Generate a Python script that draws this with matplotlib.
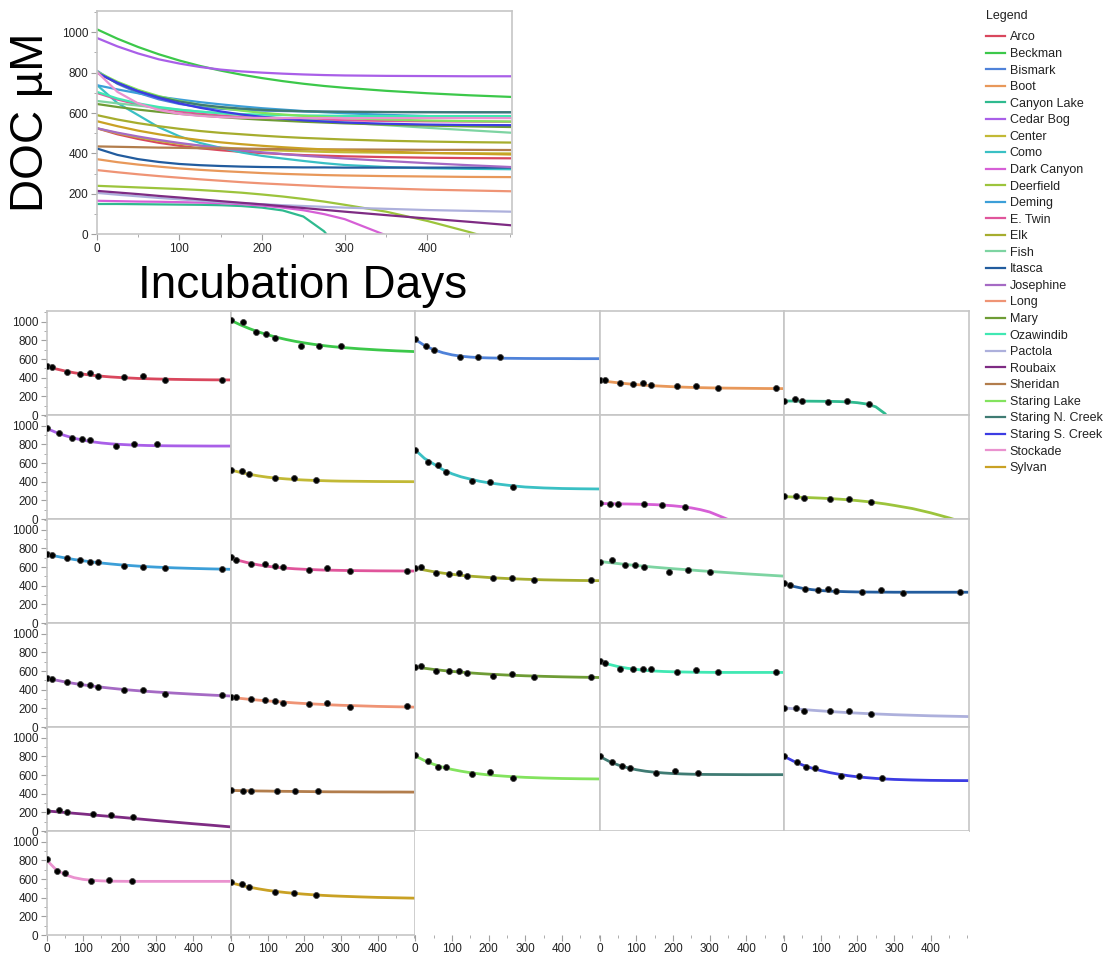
import numpy as np
import matplotlib
matplotlib.use('Agg')
import matplotlib.pyplot as plt
from matplotlib.lines import Line2D
from matplotlib.ticker import MultipleLocator

plt.rcParams['font.family'] = ['Liberation Sans', 'DejaVu Sans']

nan = np.nan

LAKES = ['Arco', 'Beckman', 'Bismark', 'Boot', 'Canyon Lake', 'Cedar Bog', 'Center', 'Como',
         'Dark Canyon', 'Deerfield', 'Deming', 'E. Twin', 'Elk', 'Fish', 'Itasca', 'Josephine',
         'Long', 'Mary', 'Ozawindib', 'Pactola', 'Roubaix', 'Sheridan', 'Staring Lake',
         'Staring N. Creek', 'Staring S. Creek', 'Stockade', 'Sylvan']

COLORS = ['#d9475d', '#3cc84a', '#4f82d9', '#e8985a', '#2fba8f', '#a95fe8', '#c2b935', '#3ac0c4',
          '#d65fd6', '#9cc43c', '#3c9fd8', '#e0559b', '#a6ad2e', '#7dd4a2', '#225c9e', '#a56ac4',
          '#ef9475', '#6e9c35', '#40e8b3', '#adb0dc', '#7e2b83', '#b27d4c', '#83e35e',
          '#3f7b73', '#3c3ce3', '#ea92cf', '#c9a124']

# sampling schedules (incubation day of each DOC measurement)
DAYS_A = [0, 15, 56, 92, 119, 141, 212, 263, 324, 480]
DAYS_B1 = [0, 29, 50, 121, 171, 232]
DAYS_B2 = [0, 33, 55, 126, 176, 237]
DAYS_C = [0, 34, 69, 97, 120, 190, 240, 301]
DAYS_D = [0, 34, 61, 83, 154, 205, 267]

OBS_DAYS = [DAYS_A, DAYS_C, DAYS_B1, DAYS_A, DAYS_B1, DAYS_C, DAYS_B1, DAYS_D,
            DAYS_B1, DAYS_B2, DAYS_A, DAYS_A, DAYS_A, DAYS_C, DAYS_A, DAYS_A,
            DAYS_A, DAYS_A, DAYS_A, DAYS_B2, DAYS_B2, DAYS_B2, DAYS_D,
            DAYS_D, DAYS_D, DAYS_B1, DAYS_B1]

OBS_DOC = [
    [525, 518, 464, 440, 447, 421, 411, 415, 379, 375],   # Arco
    [1015, 1000, 893, 865, 829, 743, 743, 743],           # Beckman
    [811, 743, 693, 622, 618, 618],                       # Bismark
    [372, 379, 346, 332, 340, 318, 311, 311, 286, 289],   # Boot
    [145, 172, 150, 143, 147, 114],                       # Canyon Lake
    [980, 918, 872, 858, 843, 786, 807, 807],             # Cedar Bog
    [525, 511, 479, 440, 436, 418],                       # Center
    [745, 614, 575, 500, 407, 397, 346],                  # Como
    [170, 164, 161, 161, 150, 125],                       # Dark Canyon
    [243, 250, 225, 218, 214, 179],                       # Deerfield
    [742, 726, 697, 675, 650, 650, 611, 604, 593, 579],   # Deming
    [705, 679, 632, 632, 615, 597, 568, 586, 561, 557],   # E. Twin
    [588, 597, 536, 522, 539, 500, 486, 482, 458, 461],   # Elk
    [657, 672, 625, 625, 604, 543, 565, 547],             # Fish
    [428, 407, 368, 357, 361, 343, 332, 354, 322, 332],   # Itasca
    [528, 515, 479, 458, 447, 429, 393, 400, 354, 340],   # Josephine
    [318, 325, 297, 286, 279, 261, 250, 254, 218, 225],   # Long
    [645, 657, 600, 597, 597, 579, 547, 565, 533, 539],   # Mary
    [708, 689, 625, 625, 625, 622, 586, 608, 593, 586],   # Ozawindib
    [207, 200, 175, 168, 168, 139],                       # Pactola
    [218, 222, 200, 186, 168, 150],                       # Roubaix
    [438, 432, 430, 430, 424, 424],                       # Sheridan
    [810, 750, 689, 686, 614, 629, 568],                  # Staring Lake
    [805, 740, 700, 675, 622, 643, 618],                  # Staring N. Creek
    [805, 740, 689, 672, 590, 593, 565],                  # Staring S. Creek
    [810, 689, 668, 582, 593, 582],                       # Stockade
    [565, 543, 518, 458, 450, 429],                       # Sylvan
]

# fitted decay curves at these days
FIT_DAYS = [0, 25, 50, 75, 100, 125, 150, 175, 200, 225, 250, 275, 300, 350, 400, 450, 500]
FIT_DOC = [
    [525, 495, 472, 453, 438, 426, 416, 408, 402, 397, 392, 389, 386, 382, 379, 377, 376],
    [1015, 968, 927, 891, 860, 833, 810, 790, 773, 758, 745, 734, 725, 710, 698, 688, 680],
    [810, 745, 700, 668, 645, 630, 621, 615, 612, 610, 608, 607, 606, 605, 605, 604, 604],
    [372, 357, 345, 335, 326, 319, 313, 308, 303, 299, 296, 293, 291, 288, 286, 284, 283],
    [150, 150, 149, 148, 147, 146, 144, 140, 132, 118, 88, 15, -110, nan, nan, nan, nan],
    [972, 930, 895, 866, 845, 828, 815, 806, 800, 795, 791, 788, 786, 784, 783, 782, 782],
    [525, 500, 480, 462, 448, 438, 430, 423, 418, 414, 411, 408, 406, 404, 402, 401, 400],
    [740, 650, 590, 530, 485, 452, 428, 405, 388, 375, 363, 352, 343, 333, 327, 324, 322],
    [166, 164, 162, 161, 159, 157, 154, 149, 142, 132, 119, 100, 75, -5, nan, nan, nan],
    [240, 236, 232, 228, 224, 219, 213, 206, 197, 187, 175, 162, 146, 112, 66, 12, -48],
    [738, 717, 698, 681, 667, 654, 643, 633, 624, 617, 610, 604, 599, 591, 585, 580, 576],
    [700, 667, 642, 623, 608, 597, 588, 581, 576, 572, 568, 566, 564, 561, 559, 558, 557],
    [590, 568, 550, 535, 522, 511, 502, 495, 488, 482, 477, 473, 469, 463, 459, 456, 454],
    [660, 648, 637, 626, 616, 607, 598, 590, 582, 575, 568, 560, 553, 540, 527, 515, 503],
    [425, 393, 372, 358, 348, 342, 338, 335, 333, 332, 331, 331, 330, 330, 330, 330, 330],
    [525, 503, 484, 467, 452, 439, 427, 416, 406, 397, 389, 382, 375, 363, 352, 342, 333],
    [318, 307, 297, 288, 280, 272, 265, 258, 252, 247, 242, 237, 233, 227, 221, 217, 213],
    [645, 630, 617, 606, 596, 588, 580, 573, 567, 562, 557, 553, 549, 543, 538, 534, 531],
    [705, 672, 648, 630, 617, 607, 600, 595, 592, 590, 588, 587, 586, 585, 585, 585, 585],
    [205, 196, 188, 180, 173, 166, 160, 154, 149, 144, 140, 136, 132, 126, 120, 116, 112],
    [215, 207, 199, 190, 182, 173, 164, 156, 148, 139, 130, 121, 112, 95, 78, 62, 45],
    [435, 433, 431, 429, 428, 426, 425, 424, 423, 422, 421, 420, 420, 419, 418, 418, 417],
    [805, 755, 715, 684, 660, 641, 625, 612, 601, 593, 586, 580, 575, 568, 563, 560, 558],
    [800, 748, 708, 679, 657, 641, 630, 622, 616, 612, 609, 607, 606, 605, 604, 604, 604],
    [800, 750, 708, 675, 648, 626, 608, 593, 581, 572, 564, 558, 553, 547, 543, 541, 540],
    [805, 705, 648, 615, 596, 586, 580, 577, 576, 575, 575, 575, 575, 575, 575, 575, 575],
    [560, 535, 513, 495, 479, 466, 455, 446, 438, 431, 425, 420, 416, 409, 403, 399, 395],
]

FRAME = '#c6c6c6'
TICK = '#a0a0a0'
TXT = '#222222'
W, H = 1105, 958


def style(ax):
    for s in ax.spines.values():
        s.set_color(FRAME)
        s.set_linewidth(1.2)
    ax.tick_params(which='both', direction='out', color=TICK, labelcolor=TXT, labelsize=8.5, pad=2)
    ax.tick_params(which='major', length=4)
    ax.tick_params(which='minor', length=2.5)
    ax.set_xticks([0, 100, 200, 300, 400])
    ax.xaxis.set_minor_locator(MultipleLocator(50))
    ax.set_yticks([0, 200, 400, 600, 800, 1000])
    ax.yaxis.set_minor_locator(MultipleLocator(100))


fig = plt.figure(figsize=(W / 100, H / 100), dpi=100)

# overview of all fitted curves
top = fig.add_axes([96.7 / W, 1 - 234.3 / H, 415 / W, 223.3 / H])
for col, y in zip(COLORS, FIT_DOC):
    top.plot(FIT_DAYS, y, color=col, lw=1.6)
top.set_xlim(0, 502)
top.set_ylim(0, 1105)
style(top)
fig.text(31 / W, 1 - 122 / H, 'DOC µM', rotation=90, ha='center', va='center', fontsize=33)
fig.text(303 / W, 1 - 286 / H, 'Incubation Days', ha='center', va='center', fontsize=33)

# one small panel per lake
gs = fig.add_gridspec(6, 5, left=46.5 / W, right=968.5 / W, top=1 - 311 / H,
                      bottom=1 - 935 / H, hspace=0, wspace=0)
for i in range(30):
    r, c = divmod(i, 5)
    ax = fig.add_subplot(gs[r, c])
    style(ax)
    if i < len(LAKES):
        ax.plot(FIT_DAYS, FIT_DOC[i], color=COLORS[i], lw=2, zorder=2)
        ax.plot(OBS_DAYS[i], OBS_DOC[i], 'o', color='black', ms=4.3, mec='#444444',
                mew=0.6, zorder=3)
    else:
        for s in ax.spines.values():
            s.set_visible(False)
    ax.set_xlim(0, 503)
    ax.set_ylim(0, 1115)
    ax.tick_params(which='both', left=(c == 0), labelleft=(c == 0),
                   bottom=(r == 5), labelbottom=(r == 5))

fig.text(986 / W, 1 - 16 / H, 'Legend', ha='left', va='center', fontsize=9, color=TXT)
handles = [Line2D([], [], color=col, lw=1.6) for col in COLORS]
fig.legend(handles, LAKES, loc='upper left', bbox_to_anchor=(986 / W, 1 - 31.5 / H),
           frameon=False, fontsize=9, handlelength=1.55, handletextpad=0.35,
           labelspacing=0.365, borderpad=0, borderaxespad=0, labelcolor=TXT)

fig.savefig('out.png', dpi=100)
